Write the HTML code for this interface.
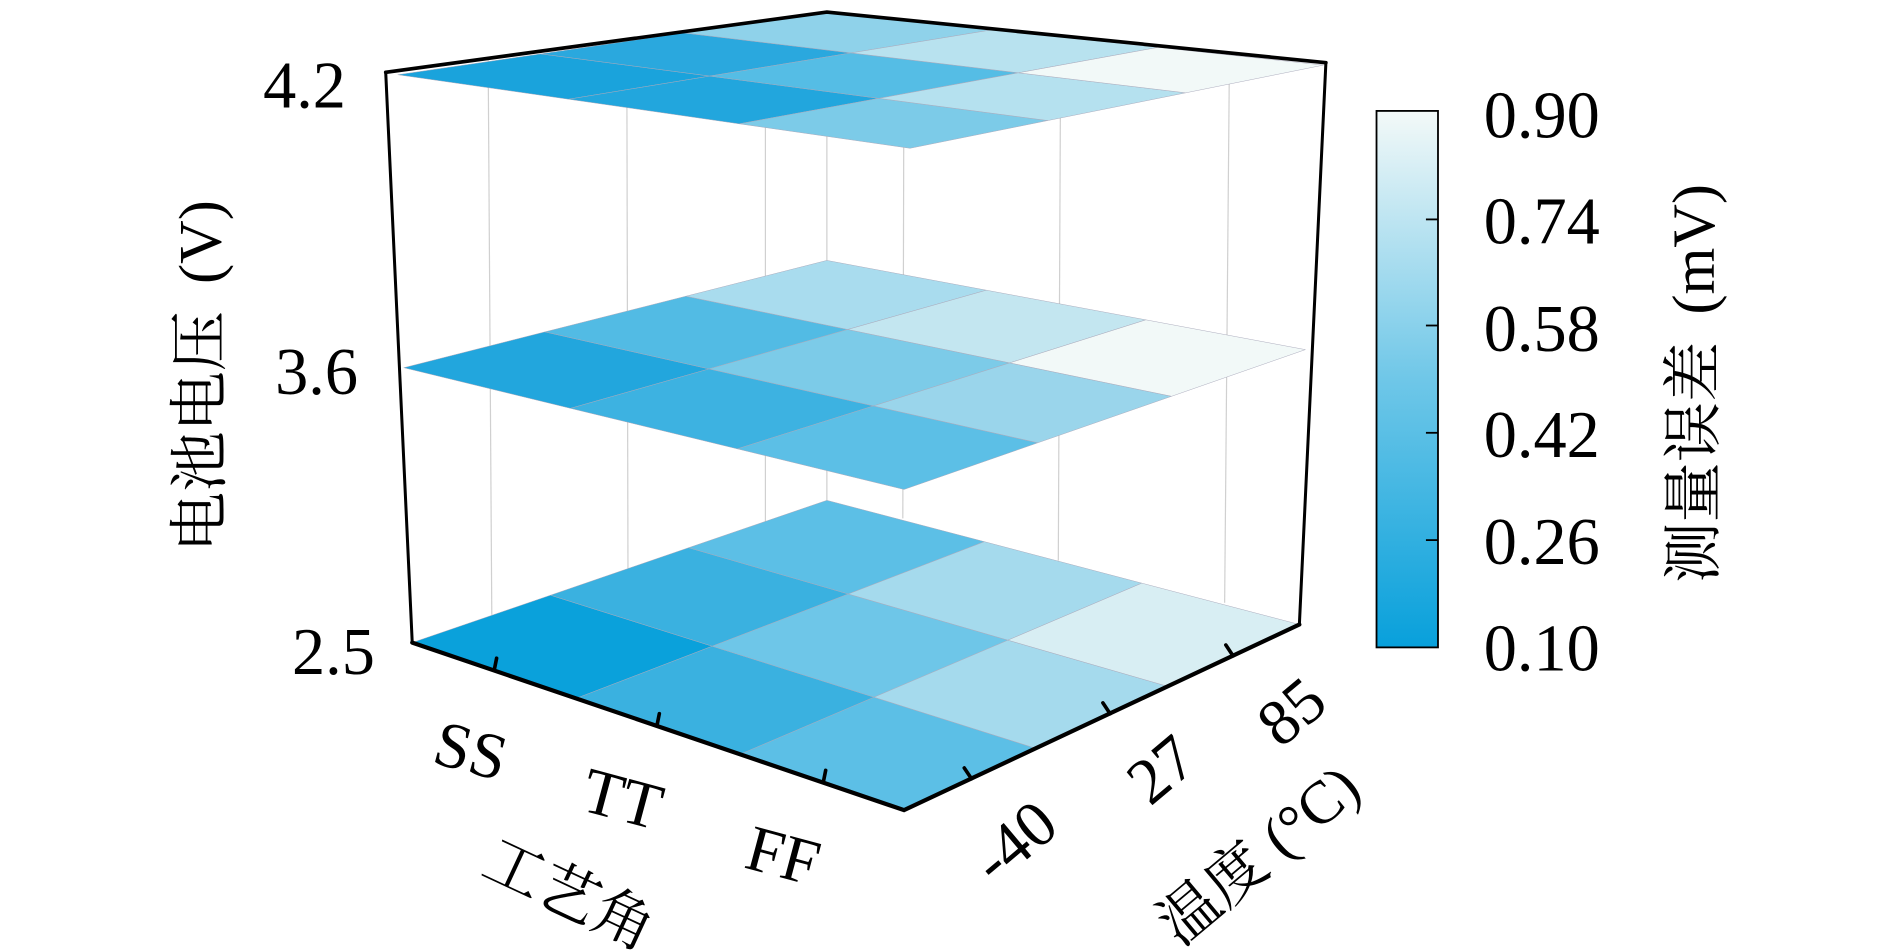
<!DOCTYPE html>
<html><head><meta charset="utf-8"><style>
html,body{margin:0;padding:0;background:#fff;}
svg{display:block;}
text{font-family:"Liberation Serif","Noto Serif CJK SC",serif;fill:#000;}
.cj{font-family:"Liberation Serif","Noto Serif CJK SC","Noto Sans CJK SC",serif;}
</style></head><body>
<svg id="s" width="1890" height="950" viewBox="0 0 1568 788" preserveAspectRatio="none" xmlns="http://www.w3.org/2000/svg">
<defs>
<linearGradient id="cb" x1="0" y1="1" x2="0" y2="0">
<stop offset="0" stop-color="#08a0db"/>
<stop offset="0.5" stop-color="#6fc7e8"/>
<stop offset="1" stop-color="#f3f9f8"/>
</linearGradient>
</defs>
<g stroke="#d0d0d0" stroke-width="1">
<line x1="686" y1="10" x2="686" y2="415"/>
<line x1="405" y1="50" x2="408" y2="510"/>
<line x1="520" y1="35" x2="521" y2="480"/>
<line x1="635" y1="18" x2="635" y2="445"/>
<line x1="750" y1="17" x2="749" y2="430"/>
<line x1="880" y1="30" x2="878" y2="465"/>
<line x1="1020" y1="45" x2="1016" y2="500"/>
</g>
<g id="planes" stroke="#aab" stroke-width="0.4"></g>
<g stroke="#000" fill="none" stroke-linecap="round">
<polyline points="320,60 686,10 1100,52" stroke-width="3"/>
<line x1="320" y1="60" x2="342" y2="533" stroke-width="2.5"/>
<line x1="1100" y1="52" x2="1078" y2="518" stroke-width="2.5"/>
<polyline points="342,533 750,672 1078,518" stroke-width="3.5"/>
<g stroke-width="3">
<line x1="410" y1="556" x2="412" y2="546"/>
<line x1="545" y1="602" x2="547" y2="592"/>
<line x1="683" y1="649" x2="685" y2="639"/>
<line x1="806" y1="646" x2="800" y2="637"/>
<line x1="921" y1="592" x2="915" y2="583"/>
<line x1="1023" y1="544" x2="1017" y2="535"/>
</g>
</g>
<g font-size="55" text-anchor="end">
<text x="287" y="89">4.2</text>
<text x="297" y="327">3.6</text>
<text x="311" y="559">2.5</text>
</g>
<text class="cj" font-size="50" text-anchor="middle" transform="translate(183,312) rotate(-90)">电池电压 <tspan dx="10">(V)</tspan></text>
<g font-size="54" text-anchor="middle">
<text transform="translate(386,640) rotate(15)">SS</text>
<text transform="translate(512,680) rotate(15)">TT</text>
<text transform="translate(645,727) rotate(15)">FF</text>
<text transform="translate(853,712) rotate(-40)">-40</text>
<text transform="translate(975,652) rotate(-40)">27</text>
<text transform="translate(1083,604) rotate(-40)">85</text>
</g>
<text class="cj" font-size="50" text-anchor="middle" transform="translate(465,757) rotate(25)">工艺角</text>
<text class="cj" font-size="50" text-anchor="middle" transform="translate(1055,722) rotate(-40)">温度 (°C)</text>
<rect x="1142" y="92" width="51" height="445" fill="url(#cb)" stroke="#000" stroke-width="1.5"/>
<g stroke="#000" stroke-width="1.5">
<line x1="1183" y1="182" x2="1193" y2="182"/>
<line x1="1183" y1="270" x2="1193" y2="270"/>
<line x1="1183" y1="359" x2="1193" y2="359"/>
<line x1="1183" y1="448" x2="1193" y2="448"/>
</g>
<g font-size="55">
<text x="1231" y="114">0.90</text>
<text x="1231" y="202">0.74</text>
<text x="1231" y="291">0.58</text>
<text x="1231" y="379">0.42</text>
<text x="1231" y="468">0.26</text>
<text x="1231" y="556">0.10</text>
</g>
<text class="cj" font-size="50" text-anchor="middle" transform="translate(1422,318) rotate(-90)">测量误差 <tspan dx="10">(mV)</tspan></text>
</svg>
<script>
(function(){
var planes=[
 {L:[330,62],B:[686,10],R:[1098,54],F:[755,123],c:[["#1aa3dc","#2aa8de","#8fd2ea"],["#22a6dd","#55bde5","#b8e2ef"],["#7ccbe8","#b5e1ef","#f2f9f8"]]},
 {L:[335,305],B:[686,216],R:[1083,290],F:[750,406],c:[["#22a6dd","#52bbe4","#a9dcee"],["#3db2e1","#7ccbe8","#c3e6f0"],["#5cbfe6","#9ad5eb","#f2f9f8"]]},
 {L:[342,533],B:[686,415],R:[1078,518],F:[750,672],c:[["#0aa1db","#3ab1e0","#5cbfe6"],["#3ab1e0","#6ec6e8","#a5daed"],["#5cbfe6","#a5daed","#d8eef3"]]}
];
var g=document.getElementById('planes'),ns="http://www.w3.org/2000/svg";
function P(p,u,v){
 var x=(1-u)*(1-v)*p.L[0]+u*(1-v)*p.F[0]+(1-u)*v*p.B[0]+u*v*p.R[0];
 var y=(1-u)*(1-v)*p.L[1]+u*(1-v)*p.F[1]+(1-u)*v*p.B[1]+u*v*p.R[1];
 return x.toFixed(1)+","+y.toFixed(1);}
planes.forEach(function(p){
 for(var i=0;i<3;i++)for(var j=0;j<3;j++){
  var u0=i/3,u1=(i+1)/3,v0=j/3,v1=(j+1)/3;
  var e=document.createElementNS(ns,"polygon");
  e.setAttribute("points",[P(p,u0,v0),P(p,u1,v0),P(p,u1,v1),P(p,u0,v1)].join(" "));
  e.setAttribute("fill",p.c[i][j]);
  g.appendChild(e);
 }
});
})();
</script>
</body></html>
